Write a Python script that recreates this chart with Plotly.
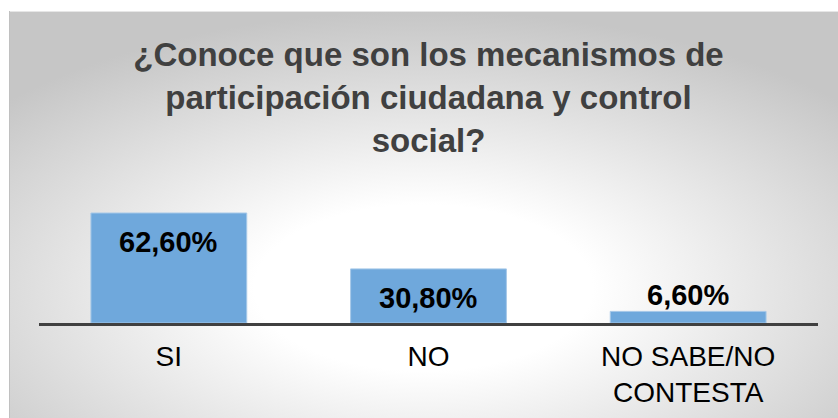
import base64
import plotly.graph_objects as go

categories = ["SI", "NO", "NO SABE/NO<br>CONTESTA"]
values = [62.6, 30.8, 6.6]
value_labels = ["62,60%", "30,80%", "6,60%"]
label_inside = [True, True, False]

title_text = "¿Conoce que son los mecanismos de<br>participación ciudadana y control<br>social?"

W, H = 838, 418
margin = dict(l=39, r=20, t=200, b=95)
font_family = "Liberation Sans, Arial, sans-serif"

# radial grey background of the chart frame, drawn as an svg image
svg = """<svg xmlns='http://www.w3.org/2000/svg' width='829' height='407' viewBox='0 0 829 407' preserveAspectRatio='none'>
<defs><radialGradient id='g' cx='50%' cy='68%' r='68%'>
<stop offset='0%' stop-color='#ffffff'/><stop offset='30%' stop-color='#ffffff'/>
<stop offset='100%' stop-color='#c6c6c6'/></radialGradient></defs>
<rect width='829' height='407' fill='url(#g)'/>
<line x1='0' y1='0.5' x2='829' y2='0.5' stroke='#e6e6e6' stroke-width='1'/>
<line x1='0.5' y1='0' x2='0.5' y2='407' stroke='#c0c0c0' stroke-width='1'/></svg>"""
svg_uri = "data:image/svg+xml;base64," + base64.b64encode(svg.encode()).decode()

pw = W - margin["l"] - margin["r"]
ph = H - margin["t"] - margin["b"]
box_x0, box_y0 = 9, 11  # px, top-left of chart frame

fig = go.Figure()
fig.add_trace(go.Bar(
    x=categories, y=values,
    width=0.6,
    marker=dict(color="#6fa8dc", line=dict(color="#a6c8e8", width=1)),
    hoverinfo="skip",
))

for cat, val, lab, inside in zip(categories, values, value_labels, label_inside):
    fig.add_annotation(
        x=cat, y=val, text=f"<b>{lab}</b>", showarrow=False,
        yanchor="top" if inside else "bottom",
        yshift=-11 if inside else -2,
        font=dict(size=29, color="black", family=font_family),
    )

fig.add_layout_image(
    source=svg_uri, xref="paper", yref="paper",
    x=(box_x0 - margin["l"]) / pw,
    y=(H - margin["b"] - box_y0) / ph,
    sizex=(W - box_x0) / pw,
    sizey=(H - box_y0) / ph,
    xanchor="left", yanchor="top", sizing="stretch", layer="below",
)

fig.update_layout(
    width=W, height=H, margin=margin,
    paper_bgcolor="white", plot_bgcolor="rgba(0,0,0,0)",
    showlegend=False,
    title=dict(text=f"<b>{title_text}</b>", x=0.5, xanchor="center",
               xref="paper", yref="container", y=1 - 66 / H, yanchor="middle",
               font=dict(size=33, color="#404040", family=font_family)),
    font=dict(family=font_family),
    bargap=0.4,
)
fig.update_xaxes(showline=True, linecolor="#404040", linewidth=3,
                 showgrid=False, ticks="", ticklabelstandoff=6, automargin=False,
                 tickfont=dict(size=28, color="black", family=font_family))
fig.update_yaxes(visible=False, range=[0, 70], showgrid=False, automargin=False)

# page body has a default 8px margin; drop it so the figure fills the window
fig.write_html("out.html", config={"displayModeBar": False},
               post_script="document.body.style.margin='0';")
